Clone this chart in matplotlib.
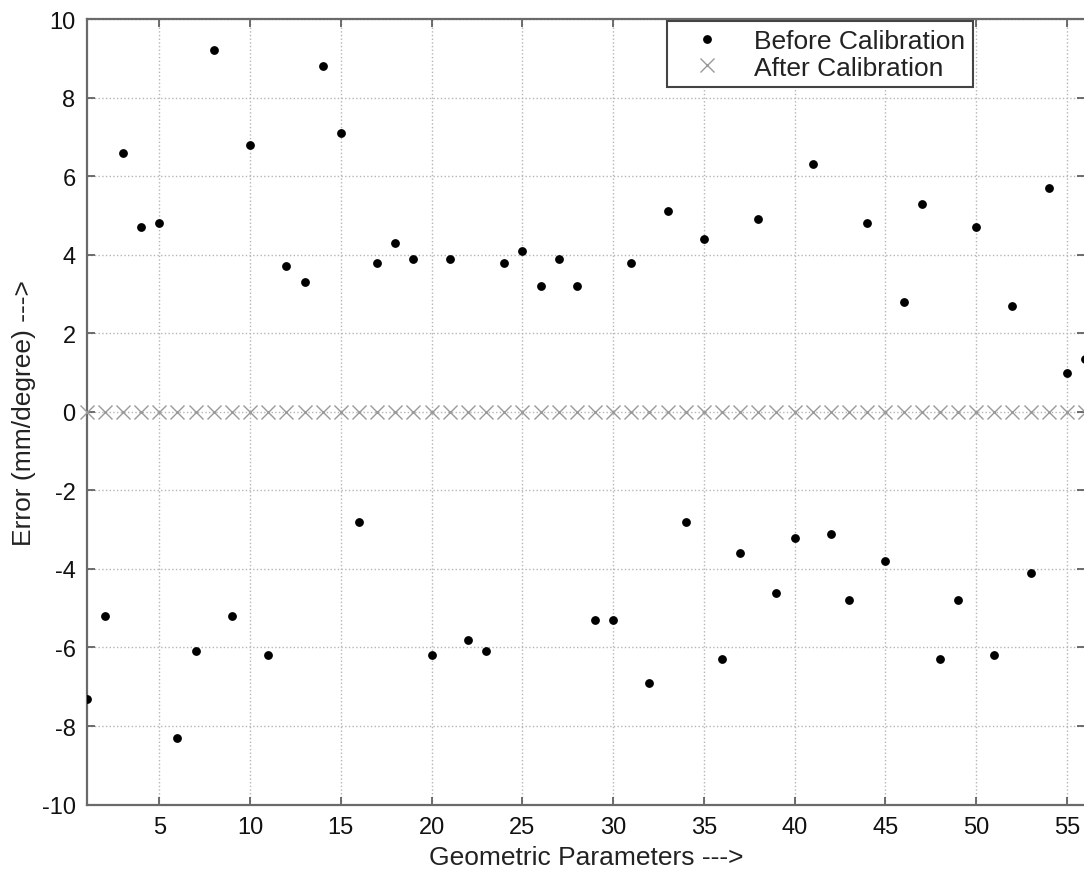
import matplotlib
matplotlib.use("Agg")
import matplotlib.pyplot as plt

plt.rcParams['font.family'] = ['Liberation Sans', 'DejaVu Sans']
plt.rcParams['axes.unicode_minus'] = False

# parameter index 1..56
params = list(range(1, 57))

# error before calibration
before = [
    -7.3, -5.2, 6.6, 4.7, 4.8, -8.3, -6.1, 9.2, -5.2, 6.8,
    -6.2, 3.7, 3.3, 8.8, 7.1, -2.8, 3.8, 4.3, 3.9, -6.2,
    3.9, -5.8, -6.1, 3.8, 4.1, 3.2, 3.9, 3.2, -5.3, -5.3,
    3.8, -6.9, 5.1, -2.8, 4.4, -6.3, -3.6, 4.9, -4.6, -3.2,
    6.3, -3.1, -4.8, 4.8, -3.8, 2.8, 5.3, -6.3, -4.8, 4.7,
    -6.2, 2.7, -4.1, 5.7, 1.0, 1.35,
]

# error after calibration (all zero)
after = [0.0] * 56

x_ticks = [5, 10, 15, 20, 25, 30, 35, 40, 45, 50, 55]
y_ticks = [-10, -8, -6, -4, -2, 0, 2, 4, 6, 8, 10]

fig = plt.figure(figsize=(10.84, 8.70), dpi=100)
ax = fig.add_axes([0.080, 0.074, 0.921, 0.903])

ax.plot(params, after, linestyle="none", marker="x", markersize=10,
        markeredgewidth=1.0, color="#9a9a9a", label="After Calibration",
        clip_on=False, zorder=3)
ax.plot(params, before, linestyle="none", marker="o", markersize=5.3,
        color="black", label="Before Calibration", clip_on=True, zorder=4)

ax.set_xlim(1, 56)
ax.set_ylim(-10, 10)
ax.set_xticks(x_ticks)
ax.set_yticks(y_ticks)
ax.tick_params(direction="in", length=6, width=1.2, color="#555555",
               labelsize=17, labelcolor="#111111", top=True, right=True,
               pad=8)

ax.grid(True, linestyle=":", color="#b5b5b5", linewidth=1.0)
for s in ax.spines.values():
    s.set_color("#6a6a6a")
    s.set_linewidth(1.6)

ax.set_xlabel("Geometric Parameters --->", fontsize=19, labelpad=5,
              color="#222222")
ax.set_ylabel("Error (mm/degree) --->", fontsize=19, labelpad=4,
              color="#222222")

handles, labels = ax.get_legend_handles_labels()
leg = ax.legend(handles[::-1], labels[::-1], loc="upper right",
                bbox_to_anchor=(0.888, 0.9975), fontsize=19,
                fancybox=False, framealpha=1, edgecolor="#444444",
                borderpad=0.3, labelspacing=0.1, handlelength=2.4,
                handletextpad=0.6, borderaxespad=0)
leg.get_frame().set_linewidth(1.5)
for t in leg.get_texts():
    t.set_color("#222222")

fig.savefig("out.png", dpi=100, facecolor="white")
